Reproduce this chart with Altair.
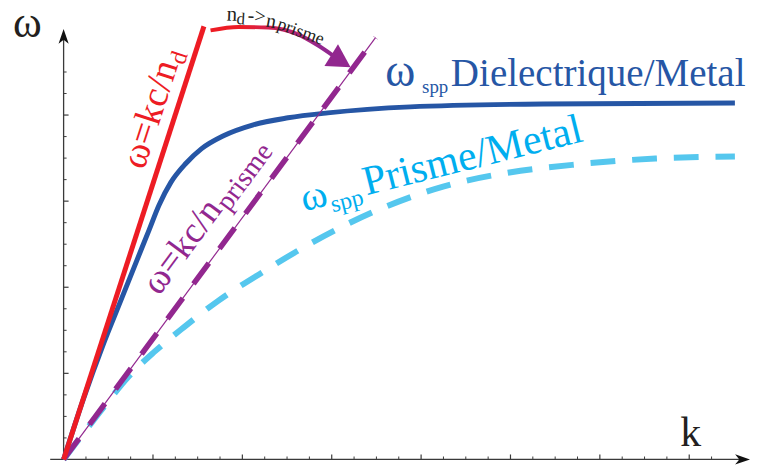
import altair as alt
import pandas as pd

# ---------------- data (k, omega in arbitrary units) ----------------
K_MIN, K_MAX = -0.15, 7.68
W_MIN, W_MAX = 0.0, 5.0

# light line  omega = k c / n_d
light_d_k = [0.0, 1.57]
light_d_w = [0.0, 5.03]

# light line  omega = k c / n_prisme
light_p_k = [0.0, 3.49]
light_p_w = [0.0, 4.90]

# SPP dispersion dielectric / metal
spp_d_k = [0.0, 0.222, 0.444, 0.644, 0.822, 0.956, 1.067, 1.2, 1.367, 1.544,
           1.789, 2.122, 2.511, 2.956, 3.878, 5.367, 7.511]
spp_d_w = [0.0, 0.704, 1.338, 1.857, 2.318, 2.664, 2.953, 3.218, 3.437, 3.610,
           3.760, 3.887, 3.968, 4.025, 4.095, 4.129, 4.141]

# SPP dispersion prism / metal
spp_p_k = [0.0, 0.4, 0.733, 1.011, 1.344, 1.733, 2.233, 2.733, 3.511, 4.256,
           4.989, 5.733, 6.622, 7.511]
spp_p_w = [0.0, 0.542, 0.969, 1.246, 1.534, 1.845, 2.180, 2.491, 2.895, 3.172,
           3.333, 3.426, 3.495, 3.518]

# curved arrow n_d -> n_prisme
arc_k = [1.644, 1.956, 2.289, 2.622, 2.844, 3.011]
arc_w = [4.983, 5.023, 5.017, 4.937, 4.810, 4.694]
arc_tip = (3.211, 4.556)

# axis ticks
x_minor = [i * 0.25 for i in range(1, 30) if i % 4 != 0]
x_major = [1, 2, 3, 4, 5, 6, 7]
y_minor = [i * 0.25 for i in range(1, 19) if i % 4 != 0]
y_major = [1, 2, 3, 4]

RED = "#ed1c24"
BLUE = "#2656a5"
CYAN_LINE = "#55c7ee"
CYAN_TEXT = "#00aeef"
PURPLE = "#92278f"
INK = "#231f20"
AXIS = "#3a3a3a"
FONT = "Liberation Serif"

xs = alt.Scale(domain=[K_MIN, K_MAX], nice=False, zero=False)
ys = alt.Scale(domain=[W_MIN, W_MAX], nice=False, zero=False)


def X(f="k"):
    return alt.X(f"{f}:Q", scale=xs, axis=None)


def Y(f="w"):
    return alt.Y(f"{f}:Q", scale=ys, axis=None)


def line_df(k, w):
    return pd.DataFrame({"k": k, "w": w, "o": list(range(len(k)))})


# ---------------- axes ----------------
axes_df = pd.DataFrame({"k": [K_MIN, 0.0], "k2": [K_MAX - 0.05, 0.0],
                        "w": [0.0, 0.0], "w2": [0.0, W_MAX - 0.05]})
axes = alt.Chart(axes_df).mark_rule(color=AXIS, strokeWidth=1.3).encode(
    x=X(), x2="k2:Q", y=Y(), y2="w2:Q")

tx_minor = alt.Chart(pd.DataFrame({"k": x_minor, "w": 0.0})).mark_tick(
    orient="vertical", size=3, thickness=1, yOffset=-1.5, color=AXIS, opacity=1
).encode(x=X(), y=Y())
tx_major = alt.Chart(pd.DataFrame({"k": x_major, "w": 0.0})).mark_tick(
    orient="vertical", size=5, thickness=1.2, yOffset=-2.5, color=AXIS, opacity=1
).encode(x=X(), y=Y())
ty_minor = alt.Chart(pd.DataFrame({"k": 0.0, "w": y_minor})).mark_tick(
    orient="horizontal", size=3, thickness=1, xOffset=1.5, color=AXIS, opacity=1
).encode(x=X(), y=Y())
ty_major = alt.Chart(pd.DataFrame({"k": 0.0, "w": y_major})).mark_tick(
    orient="horizontal", size=5, thickness=1.2, xOffset=2.5, color=AXIS, opacity=1
).encode(x=X(), y=Y())

arrow_x = alt.Chart(pd.DataFrame({"k": [K_MAX], "w": [0.0]})).mark_point(
    shape="M0,0L-1,-0.34L-0.72,0L-1,0.34Z", size=900, filled=True,
    color="#111111", opacity=1, strokeWidth=0
).encode(x=X(), y=Y())
arrow_y = alt.Chart(pd.DataFrame({"k": [0.0], "w": [W_MAX]})).mark_point(
    shape="M0,0L-0.34,1L0,0.72L0.34,1Z", size=900, filled=True,
    color="#111111", opacity=1, strokeWidth=0
).encode(x=X(), y=Y())

# ---------------- curves ----------------
blue = alt.Chart(line_df(spp_d_k, spp_d_w)).mark_line(
    color=BLUE, strokeWidth=5, interpolate="monotone"
).encode(x=X(), y=Y(), order="o:Q")

cyan = alt.Chart(line_df(spp_p_k, spp_p_w)).mark_line(
    color=CYAN_LINE, strokeWidth=6, strokeDash=[25, 17], interpolate="monotone"
).encode(x=X(), y=Y(), order="o:Q")

purple_thin = alt.Chart(line_df(light_p_k, light_p_w)).mark_line(
    color=PURPLE, strokeWidth=1.2
).encode(x=X(), y=Y(), order="o:Q")
purple_thick = alt.Chart(line_df(light_p_k, light_p_w)).mark_line(
    color=PURPLE, strokeWidth=5.5, strokeDash=[26, 18]
).encode(x=X(), y=Y(), order="o:Q")

red = alt.Chart(line_df(light_d_k, light_d_w)).mark_line(
    color=RED, strokeWidth=5
).encode(x=X(), y=Y(), order="o:Q")

arc = alt.Chart(line_df(arc_k, arc_w)).mark_line(
    strokeWidth=4, interpolate="monotone",
    color=alt.Gradient(
        gradient="linear",
        stops=[alt.GradientStop(color=RED, offset=0),
               alt.GradientStop(color=RED, offset=0.25),
               alt.GradientStop(color="#c4246a", offset=0.6),
               alt.GradientStop(color=PURPLE, offset=0.9)],
        x1=0, x2=1, y1=0, y2=0)
).encode(x=X(), y=Y(), order="o:Q")

arc_head = alt.Chart(pd.DataFrame({"k": [arc_tip[0]], "w": [arc_tip[1]]})).mark_point(
    shape="M0,0L-1,-0.56L-1,0.56Z", size=2116, angle=32, filled=True,
    color=PURPLE, opacity=1, strokeWidth=0
).encode(x=X(), y=Y())

# ---------------- annotations ----------------
ann = pd.DataFrame([
    # text, k, w, size, angle, color
    ("ω", -0.567, 4.908, 44, 0, INK),
    ("k", 6.9, 0.161, 42, 0, INK),
    ("ω=kc/n", 0.9, 3.356, 38, 288, RED),
    ("d", 1.351, 4.574, 24, 288, RED),
    ("ω=kc/n", 1.067, 1.892, 37, 306.5, PURPLE),
    ("prisme", 1.848, 2.869, 28, 306.5, PURPLE),
    ("ω", 2.689, 2.883, 40, 346, CYAN_TEXT),
    ("spp", 3.011, 2.872, 24, 346, CYAN_TEXT),
    ("Prisme/Metal", 3.389, 3.068, 42, 346, CYAN_TEXT),
    ("ω", 3.6, 4.337, 46, 0, BLUE),
    ("spp", 4.011, 4.256, 19, 0, BLUE),
    ("Dielectrique/Metal", 4.333, 4.337, 39.3, 0, BLUE),
    ("n", 1.822, 5.098, 21, 2, INK),
    ("d", 1.933, 5.057, 17, 4, INK),
    ("->", 2.056, 5.087, 20, 5, INK),
    ("n", 2.256, 5.029, 20, 10, INK),
    ("prisme", 2.378, 5.006, 18, 20, INK),
], columns=["text", "k", "w", "size", "angle", "color"])

labels = alt.Chart(ann).mark_text(
    align="left", baseline="alphabetic", font=FONT
).encode(
    x=X(), y=Y(), text="text:N",
    size=alt.Size("size:Q", scale=None),
    angle=alt.Angle("angle:Q", scale=None),
    color=alt.Color("color:N", scale=None),
)

chart = alt.layer(
    axes, tx_minor, tx_major, ty_minor, ty_major, arrow_x, arrow_y,
    blue, cyan, purple_thin, purple_thick, red, arc, arc_head, labels
).properties(
    width=704.7, height=433.5,
    padding={"left": 42.5, "top": 19.5, "right": 0, "bottom": 4},
    autosize=alt.AutoSizeParams(type="none"),
    background="white",
).configure_view(stroke=None)

chart.save("out.html", embed_options={"renderer": "svg", "actions": False})
